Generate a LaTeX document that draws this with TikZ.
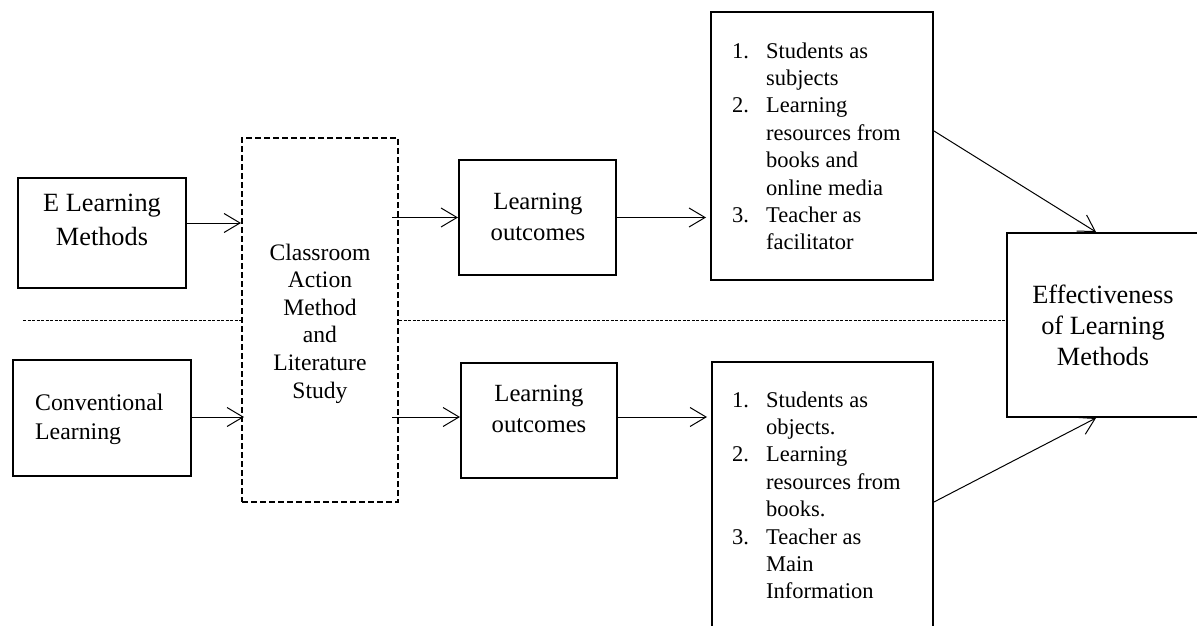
\documentclass[tikz,border=0pt]{standalone}
\usepackage{fontspec}
\setmainfont{Liberation Serif}
\usetikzlibrary{arrows.meta}
\tikzset{
  box/.style={draw, line width=2pt, inner sep=0pt, rectangle},
  dbox/.style={draw, line width=2pt, inner sep=0pt, rectangle, dash pattern=on 6pt off 3pt},
  txt/.style={inner sep=0pt},
  arr/.style={line width=1pt, -{Straight Barb[length=16pt,width=19pt]}},
  sep/.style={line width=0.8pt, dash pattern=on 3pt off 1.5pt},
}
\newcommand{\itm}[1]{\makebox[34pt][l]{#1}}
\newcommand{\ind}{\hspace*{34pt}}
\begin{document}
\begin{tikzpicture}[x=1pt,y=-1pt]
\useasboundingbox (0,0) rectangle (1197,626);
% boxes
\node[box, minimum width=168pt, minimum height=110pt] (elm) at (102,233) {};
\node[box, minimum width=178pt, minimum height=116pt] (conv) at (102,418) {};
\node[dbox, minimum width=156pt, minimum height=364pt] (cam) at (320,320) {};
\node[box, minimum width=157pt, minimum height=115pt] (lo1) at (537.5,217.5) {};
\node[box, minimum width=156pt, minimum height=115pt] (lo2) at (539,420.5) {};
\node[box, minimum width=222pt, minimum height=268pt] (l1) at (822,146) {};
\node[box, minimum width=221pt, minimum height=278pt] (l2) at (822.5,501) {};
\node[box, minimum width=198pt, minimum height=184pt] (eff) at (1106,325) {};
% texts
\node[txt, align=center, font=\fontsize{26.3}{34}\selectfont] (elmT) at (102,220) {E Learning\\Methods};
\node[txt, align=left, anchor=west, font=\fontsize{23.8}{29}\selectfont] (convT) at (35,419) {Conventional\\Learning};
\node[txt, align=center, font=\fontsize{23.6}{27.6}\selectfont] (camT) at (320,323.5) {Classroom\\Action\\Method\\and\\Literature\\Study};
\node[txt, align=center, font=\fontsize{24.7}{31}\selectfont] (lo1T) at (538,217) {Learning\\outcomes};
\node[txt, align=center, font=\fontsize{24.7}{31}\selectfont] (lo2T) at (539,409) {Learning\\outcomes};
\node[txt, align=left, anchor=west, font=\fontsize{22.5}{27.4}\selectfont] (l1T) at (732,146.3) {%
\itm{1.}Students as\\\ind subjects\\\itm{2.}Learning\\\ind resources from\\\ind books and\\\ind online media\\\itm{3.}Teacher as\\\ind facilitator};
\node[txt, align=left, anchor=west, font=\fontsize{22.5}{27.4}\selectfont] (l2T) at (732,495.3) {%
\itm{1.}Students as\\\ind objects.\\\itm{2.}Learning\\\ind resources from\\\ind books.\\\itm{3.}Teacher as\\\ind Main\\\ind Information};
\node[txt, align=center, font=\fontsize{26.3}{31}\selectfont] (effT) at (1103,325) {Effectiveness\\of Learning\\Methods};
% separator
\coordinate (hl) at (23,320);
\draw[sep] (hl) -- (hl -| cam.west);
\draw[sep] (cam.east |- hl) -- (hl -| eff.west);
% arrows
\coordinate (a1) at ([yshift=10pt]elm.east);
\draw[arr] (a1) -- (a1 -| cam.west);
\coordinate (a2) at ([yshift=1pt]conv.east);
\draw[arr] (a2) -- ([xshift=3pt]a2 -| cam.west);
\draw[arr] ([xshift=-7pt]lo1.west -| cam.east) -- (lo1.west);
\coordinate (a4) at ([yshift=3.5pt]lo2.west);
\draw[arr] ([xshift=-7pt]a4 -| cam.east) -- (a4);
\draw[arr] (lo1.east) -- ([xshift=-4pt]lo1.east -| l1.west);
\coordinate (a6) at ([yshift=3.5pt]lo2.east);
\draw[arr] (a6) -- ([xshift=-4pt]a6 -| l2.west);
\coordinate (d1) at ([yshift=15pt]l1.east);
\draw[arr] (d1) -- ([xshift=-10pt]eff.north);
\coordinate (d2) at ([yshift=-1pt]l2.east);
\draw[arr] (d2) -- ([xshift=-10pt]eff.south);
\end{tikzpicture}
\end{document}
